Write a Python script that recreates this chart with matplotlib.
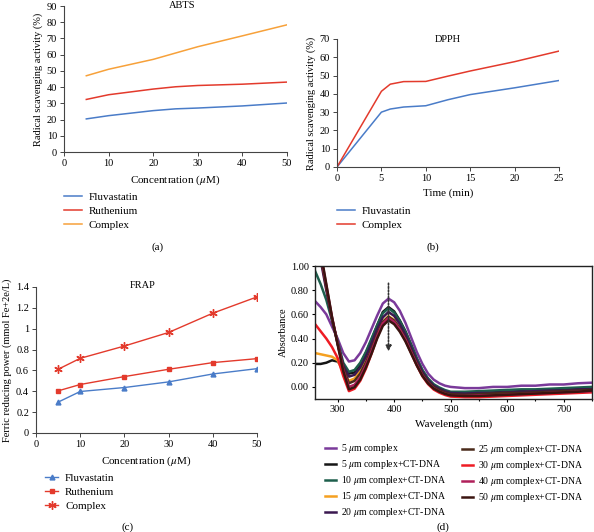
import matplotlib as mpl
mpl.use('Agg')
import matplotlib.pyplot as plt

plt.rcParams['font.family'] = ['Liberation Serif', 'DejaVu Serif']
plt.rcParams['mathtext.fontset'] = 'stix'
plt.rcParams['font.size'] = 7.5

W, H = 594, 532

# ---- (a) ABTS ----
abts_conc = [5, 10, 20, 25, 30, 40, 50]
abts_fluva = [20.4, 22.4, 25.5, 26.6, 27.1, 28.4, 30.2]
abts_ruth = [32.4, 35.3, 38.8, 40.2, 41.0, 41.8, 43.1]
abts_complex = [47.0, 51.0, 57.1, 61.0, 64.9, 71.6, 78.4]

# ---- (b) DPPH ----
dpph_time = [0, 5, 6, 7.5, 10, 12.5, 15, 20, 25]
dpph_fluva = [0, 30.0, 31.7, 32.8, 33.5, 36.8, 39.6, 43.3, 47.3]
dpph_complex = [0, 41.4, 45.3, 46.7, 46.8, 49.7, 52.5, 57.6, 63.4]

# ---- (c) FRAP ----
frap_conc = [5, 10, 20, 30, 40, 50]
frap_fluva = [0.296, 0.398, 0.436, 0.490, 0.566, 0.617]
frap_ruth = [0.404, 0.465, 0.541, 0.611, 0.675, 0.713]
frap_complex = [0.611, 0.716, 0.834, 0.964, 1.149, 1.305]

# ---- (d) UV-vis titration ----
wl = [260, 270, 280, 290, 300, 310, 320, 330, 340, 350, 360, 370, 380, 390,
      400, 410, 420, 430, 440, 450, 460, 470, 480, 490, 500,
      525, 550, 575, 600, 625, 650, 675, 700, 725, 750]
abs_5c = [0.71, 0.66, 0.60, 0.50, 0.40, 0.28, 0.21, 0.22, 0.28, 0.37, 0.48, 0.59, 0.69, 0.73,
          0.70, 0.63, 0.53, 0.41, 0.29, 0.19, 0.11, 0.06, 0.03, 0.01, 0.0,
          -0.01, -0.01, 0.0, 0.0, 0.01, 0.01, 0.02, 0.02, 0.03, 0.035]
abs_5 = [0.19, 0.19, 0.20, 0.22, 0.21, 0.16, 0.11, 0.12, 0.18, 0.28, 0.39, 0.51, 0.62, 0.66,
         0.625, 0.55, 0.46, 0.35, 0.235, 0.135, 0.065, 0.015, -0.015, -0.035, -0.05,
         -0.055, -0.05, -0.045, -0.04, -0.035, -0.03, -0.03, -0.025, -0.015, -0.01]
abs_10 = [0.96, 0.85, 0.72, 0.55, 0.38, 0.20, 0.125, 0.14, 0.20, 0.29, 0.40, 0.51, 0.61, 0.65,
          0.615, 0.545, 0.455, 0.345, 0.235, 0.14, 0.07, 0.022, -0.005, -0.026, -0.04,
          -0.04, -0.035, -0.03, -0.025, -0.02, -0.02, -0.015, -0.01, -0.005, 0.0]
abs_15 = [0.28, 0.27, 0.26, 0.25, 0.22, 0.12, 0.05, 0.07, 0.13, 0.22, 0.33, 0.445, 0.54, 0.585,
          0.553, 0.488, 0.404, 0.301, 0.198, 0.108, 0.043, -0.002, -0.028, -0.047, -0.06,
          -0.065, -0.06, -0.055, -0.05, -0.045, -0.04, -0.04, -0.035, -0.03, -0.03]
abs_20 = [1.25, 1.05, 0.80, 0.56, 0.36, 0.18, 0.085, 0.10, 0.16, 0.25, 0.36, 0.48, 0.575, 0.62,
          0.587, 0.52, 0.432, 0.325, 0.218, 0.124, 0.057, 0.01, -0.016, -0.037, -0.05,
          -0.055, -0.05, -0.05, -0.045, -0.04, -0.035, -0.03, -0.03, -0.02, -0.02]
abs_25 = [1.30, 1.08, 0.82, 0.57, 0.36, 0.16, 0.03, 0.05, 0.11, 0.20, 0.315, 0.435, 0.535, 0.58,
          0.548, 0.484, 0.401, 0.298, 0.196, 0.106, 0.042, -0.002, -0.028, -0.047, -0.06,
          -0.065, -0.06, -0.055, -0.05, -0.05, -0.045, -0.04, -0.035, -0.03, -0.025]
abs_30 = [0.52, 0.46, 0.40, 0.33, 0.24, 0.09, -0.035, -0.015, 0.05, 0.15, 0.275, 0.41, 0.52, 0.565,
          0.533, 0.468, 0.384, 0.281, 0.178, 0.088, 0.023, -0.022, -0.048, -0.067, -0.08,
          -0.085, -0.085, -0.08, -0.075, -0.07, -0.065, -0.06, -0.055, -0.05, -0.045]
abs_40 = [1.30, 1.10, 0.84, 0.58, 0.36, 0.14, 0.0, 0.018, 0.08, 0.18, 0.295, 0.42, 0.525, 0.57,
          0.538, 0.474, 0.391, 0.288, 0.186, 0.096, 0.032, -0.012, -0.038, -0.057, -0.07,
          -0.075, -0.07, -0.07, -0.065, -0.06, -0.055, -0.05, -0.045, -0.04, -0.035]
abs_50 = [1.35, 1.12, 0.85, 0.58, 0.35, 0.13, -0.02, -0.002, 0.06, 0.16, 0.275, 0.40, 0.505, 0.55,
          0.519, 0.457, 0.376, 0.277, 0.178, 0.091, 0.029, -0.014, -0.039, -0.058, -0.07,
          -0.075, -0.075, -0.07, -0.065, -0.06, -0.055, -0.05, -0.045, -0.04, -0.03]

spectra = [
    ('5 $\\mu$m complex', '#7a3a9a', abs_5c),
    ('5 $\\mu$m complex+CT-DNA', '#151515', abs_5),
    ('10 $\\mu$m complex+CT-DNA', '#1d5e4c', abs_10),
    ('15 $\\mu$m complex+CT-DNA', '#f5a020', abs_15),
    ('20 $\\mu$m complex+CT-DNA', '#3a1850', abs_20),
    ('25 $\\mu$m complex+CT-DNA', '#4a2a1a', abs_25),
    ('30 $\\mu$m complex+CT-DNA', '#ee1c24', abs_30),
    ('40 $\\mu$m complex+CT-DNA', '#b0205a', abs_40),
    ('50 $\\mu$m complex+CT-DNA', '#3a1410', abs_50),
]

BLUE = '#4a7cc8'
RED = '#e33a2c'
ORANGE = '#f7a13a'
AX = '#444444'


def frac(left, top, right, bottom):
    return [left / W, 1 - bottom / H, (right - left) / W, (bottom - top) / H]


def style(ax):
    for s in ['top', 'right']:
        ax.spines[s].set_visible(False)
    for s in ['left', 'bottom']:
        ax.spines[s].set_color(AX)
        ax.spines[s].set_linewidth(0.8)
    ax.tick_params(direction='out', length=3, width=0.7, color=AX, labelsize=7.5, pad=2)


small_leg = dict(loc='upper left', frameon=False, borderpad=0, borderaxespad=0,
                 handletextpad=0.6, labelspacing=0.38, fontsize=8)

fig = plt.figure(figsize=(W / 100, H / 100), dpi=100)

# (a)
ax = fig.add_axes(frac(64, 6, 287, 152))
style(ax)
ax.plot(abts_conc, abts_fluva, color=BLUE, lw=1.1, label='Fluvastatin')
ax.plot(abts_conc, abts_ruth, color=RED, lw=1.1, label='Ruthenium')
ax.plot(abts_conc, abts_complex, color=ORANGE, lw=1.1, label='Complex')
ax.set_xlim(0, 50)
ax.set_ylim(0, 90)
ax.set_xticks(range(0, 51, 10))
ax.set_yticks(range(0, 91, 10))
ax.set_xlabel('Concentration ($\\mu$M)', fontsize=8, labelpad=4)
ax.set_ylabel('Radical scavenging activity (%)', fontsize=7.5, labelpad=3)
ax.text(0.53, 1.005, 'ABTS', transform=ax.transAxes, ha='center', va='center', fontsize=7.5)
h, l = ax.get_legend_handles_labels()
fig.legend(h, l, bbox_to_anchor=(64 / W, 1 - 192 / H), handlelength=1.6, **small_leg)
fig.text(158 / W, 1 - 247 / H, '(a)', ha='center', va='center', fontsize=8)

# (b)
ax = fig.add_axes(frac(337, 39, 559, 167))
style(ax)
ax.plot(dpph_time, dpph_fluva, color=BLUE, lw=1.1, label='Fluvastatin')
ax.plot(dpph_time, dpph_complex, color=RED, lw=1.1, label='Complex')
ax.set_xlim(0, 25)
ax.set_ylim(0, 70)
ax.set_xticks(range(0, 26, 5))
ax.set_yticks(range(0, 71, 10))
ax.set_xlabel('Time (min)', fontsize=8, labelpad=4)
ax.set_ylabel('Radical scavenging activity (%)', fontsize=7.5, labelpad=3)
ax.text(0.5, 1.0, 'DPPH', transform=ax.transAxes, ha='center', va='center', fontsize=7.5)
h, l = ax.get_legend_handles_labels()
fig.legend(h, l, bbox_to_anchor=(337 / W, 1 - 206 / H), handlelength=1.6, **small_leg)
fig.text(433 / W, 1 - 247 / H, '(b)', ha='center', va='center', fontsize=8)

# (c)
ax = fig.add_axes(frac(36, 287, 257, 433))
style(ax)
ax.plot(frap_conc, frap_fluva, color=BLUE, lw=1.0, marker='^', ms=3.5, label='Fluvastatin')
ax.plot(frap_conc, frap_ruth, color=RED, lw=1.0, marker='s', ms=2.2, label='Ruthenium')
ax.plot(frap_conc, frap_complex, color=RED, lw=1.0, marker=(6, 2, 0), ms=6, mew=1.0,
        label='Complex')
ax.set_xlim(0, 50)
ax.set_ylim(0, 1.4)
ax.set_xticks(range(0, 51, 10))
ax.set_yticks([0, 0.2, 0.4, 0.6, 0.8, 1.0, 1.2, 1.4])
ax.set_yticklabels(['0', '0.2', '0.4', '0.6', '0.8', '1', '1.2', '1.4'])
ax.set_xlabel('Concentration ($\\mu$M)', fontsize=8, labelpad=4)
ax.set_ylabel('Ferric reducing power (mmol Fe+2e/L)', fontsize=7.5, labelpad=3)
ax.text(0.484, 1.01, 'FRAP', transform=ax.transAxes, ha='center', va='center', fontsize=7.5)
h, l = ax.get_legend_handles_labels()
fig.legend(h, l, bbox_to_anchor=(45 / W, 1 - 473 / H), handlelength=1.2, **small_leg)
fig.text(128 / W, 1 - 527 / H, '(c)', ha='center', va='center', fontsize=8)

# (d)
ax = fig.add_axes(frac(315, 266, 592, 399))
for s in ax.spines.values():
    s.set_color('#222222')
    s.set_linewidth(1.0)
handles = []
for lab, col, ys in spectra:
    ln, = ax.plot(wl, ys, color=col, lw=1.8, label=lab)
    handles.append(ln)
ax.annotate('', xy=(390, 0.27), xytext=(390, 0.88),
            arrowprops=dict(arrowstyle='-|>', linestyle=(0, (1, 1)), color='#333333',
                            lw=1.2, mutation_scale=8))
ax.set_xlim(260, 750)
ax.set_ylim(-0.1, 1.0)
ax.set_xticks(range(300, 701, 100))
ax.set_xticks(range(300, 751, 50), minor=True)
ax.set_yticks([0, 0.2, 0.4, 0.6, 0.8, 1.0])
ax.set_yticklabels(['0.00', '0.20', '0.40', '0.60', '0.80', '1.00'])
ax.tick_params(which='both', direction='out', length=2.5, width=0.8, labelsize=7.5, pad=2)
ax.tick_params(which='minor', length=1.5)
ax.set_xlabel('Wavelength (nm)', fontsize=8, labelpad=4)
ax.set_ylabel('Absorbance', fontsize=7.5, labelpad=2)
leg_kw = dict(loc='upper left', frameon=False, borderpad=0, borderaxespad=0,
              handlelength=1.1, handletextpad=0.5, labelspacing=0.32, fontsize=7)
fig.legend(handles[:5], [s[0] for s in spectra[:5]],
           bbox_to_anchor=(325 / W, 1 - 442 / H), **leg_kw)
fig.legend(handles[5:], [s[0] for s in spectra[5:]],
           bbox_to_anchor=(462 / W, 1 - 443 / H), **leg_kw)
fig.text(443 / W, 1 - 527 / H, '(d)', ha='center', va='center', fontsize=8)

fig.savefig('out.png', dpi=100)
